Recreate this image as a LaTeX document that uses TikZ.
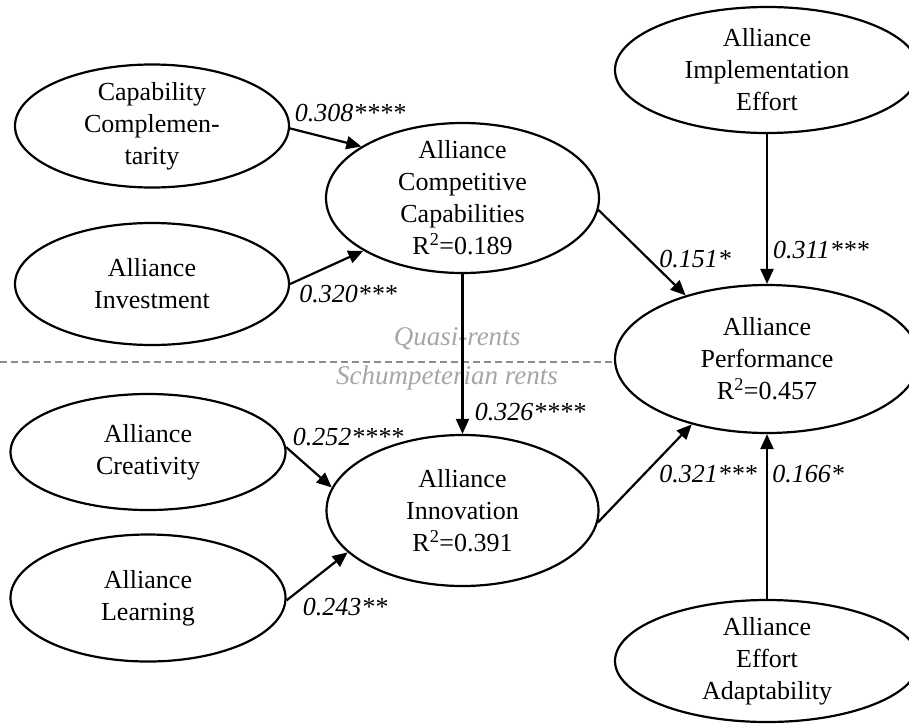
\documentclass[tikz,border=0pt]{standalone}
\usepackage{fontspec}
\setmainfont{Liberation Serif}
\usetikzlibrary{shapes.geometric,arrows.meta}
\definecolor{dashgray}{HTML}{8C8C8C}
\definecolor{rentgray}{HTML}{A6A6A6}
\tikzset{
  construct/.style={ellipse, draw, line width=2.2pt, inner xsep=0pt, inner ysep=-20pt,
    align=center, font=\fontsize{26}{32}\selectfont},
  path/.style={line width=2.2pt, -{Triangle[length=15pt,width=13pt]}},
  coef/.style={inner sep=0pt, anchor=base, font=\fontsize{26}{32}\selectfont\itshape},
  rent/.style={inner sep=0pt, anchor=base, text=rentgray, font=\fontsize{27}{32}\selectfont\itshape},
}
\begin{document}
\begin{tikzpicture}[x=1pt,y=-1pt]
\useasboundingbox (0,0) rectangle (909,725);
\clip (0,0) rectangle (909,725);
% constructs
\node[construct, minimum width=274pt, minimum height=123pt] (cc) at (152,126) {Capability\\Complemen-\\tarity};
\node[construct, minimum width=274pt, minimum height=122pt] (ai) at (152,284) {Alliance\\Investment};
\node[construct, minimum width=273pt, minimum height=150pt] (acc) at (462.5,198) {Alliance\\Competitive\\Capabilities\\R\textsuperscript{2}=0.189};
\node[construct, minimum width=304pt, minimum height=126pt] (aie) at (767,70) {Alliance\\Implementation\\Effort};
\node[construct, minimum width=304pt, minimum height=148pt] (perf) at (767,359) {Alliance\\Performance\\R\textsuperscript{2}=0.457};
\node[construct, minimum width=275pt, minimum height=116pt] (cre) at (148,452) {Alliance\\Creativity};
\node[construct, minimum width=275pt, minimum height=127pt] (lea) at (148,598) {Alliance\\Learning};
\node[construct, minimum width=272pt, minimum height=151pt] (inn) at (462.5,510.5) {Alliance\\Innovation\\R\textsuperscript{2}=0.391};
\node[construct, minimum width=304pt, minimum height=122pt] (aea) at (767,661) {Alliance\\Effort\\Adaptability};
% divider
\coordinate (dl) at (0,362);
\draw[dashgray, line width=2pt, dash pattern=on 7pt off 4pt] (dl) -- (dl -| perf.west);
\node[rent] (qr) at (457,345) {Quasi-rents};
\node[rent] (sr) at (447,384) {Schumpeterian rents};
% paths
\draw[path] (cc.-1) -- (acc.153);
\draw[path] (ai.0) -- (acc.-152);
\draw[path] (acc.-5) -- (perf.142);
\draw[path] (aie.south) -- (perf.north);
\draw[path] (acc.south) -- (inn.north);
\draw[path] (cre.2) -- (inn.170);
\draw[path] (lea.-1) -- (inn.-160);
\draw[path] (inn.-5) -- (perf.-139);
\draw[path] (aea.north) -- (perf.south);
% coefficients
\node[coef] (c1) at (350,121) {0.308****};
\node[coef] (c2) at (348,302) {0.320***};
\node[coef] (c3) at (695,267) {0.151*};
\node[coef] (c4) at (821,258) {0.311***};
\node[coef] (c5) at (530,420) {0.326****};
\node[coef] (c6) at (348,445) {0.252****};
\node[coef] (c7) at (345,615) {0.243**};
\node[coef] (c8) at (708,482) {0.321***};
\node[coef] (c9) at (808,482) {0.166*};
\end{tikzpicture}
\end{document}
